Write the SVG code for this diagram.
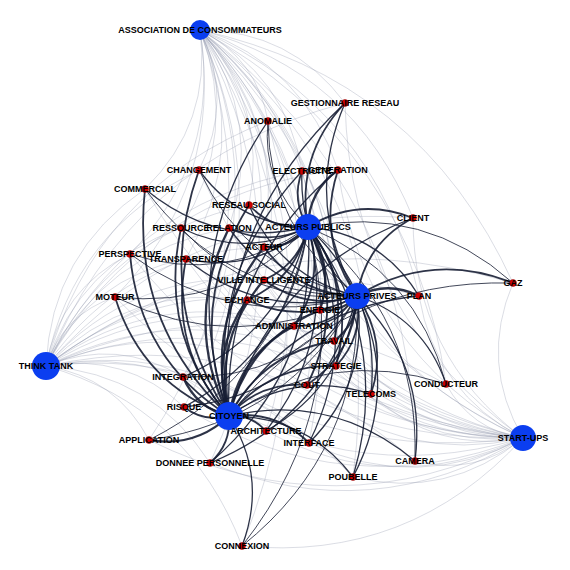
<svg xmlns="http://www.w3.org/2000/svg" xmlns:xlink="http://www.w3.org/1999/xlink" width="570" height="570" viewBox="0 0 570 570">
<style>
.lt{stroke:#8d93a8;stroke-width:0.7;stroke-opacity:0.45}
.dk use{stroke:#161d33;stroke-opacity:0.9;stroke-width:1.3}
.dk use.a{stroke-width:0.9}
.dk use.b{stroke-width:1.8}
.dk use.c{stroke-width:2.3}
.big{fill:#0b3ef0}
.sm{fill:#d00000;stroke:#8a0000;stroke-width:0.5}
text{font-family:"Liberation Sans",Arial,sans-serif;font-weight:bold;font-size:9px;fill:#000;text-anchor:middle}
</style>
<defs>
<path id="c" d="M0 0Q0.5 -0.25 1 0" fill="none" vector-effect="non-scaling-stroke"/>
</defs>
<rect width="570" height="570" fill="#fff"/>
<g id="connectors">
<g class="lt" transform="translate(200 30)">
<use href="#c" transform="matrix(68 91 -91 68 0 0)"/>
<use href="#c" transform="matrix(145 73 -73 145 0 0)"/>
<use href="#c" transform="matrix(-1 140 -140 -1 0 0)"/>
<use href="#c" transform="matrix(102 141 -141 102 0 0)"/>
<use href="#c" transform="matrix(138 140 -140 138 0 0)"/>
<use href="#c" transform="matrix(-55 159 -159 -55 0 0)"/>
<use href="#c" transform="matrix(49 175 -175 49 0 0)"/>
<use href="#c" transform="matrix(-19 198 -198 -19 0 0)"/>
<use href="#c" transform="matrix(29 198 -198 29 0 0)"/>
<use href="#c" transform="matrix(64 217 -217 64 0 0)"/>
<use href="#c" transform="matrix(-70 224 -224 -70 0 0)"/>
<use href="#c" transform="matrix(-14 229 -229 -14 0 0)"/>
<use href="#c" transform="matrix(64 250 -250 64 0 0)"/>
<use href="#c" transform="matrix(-85 267 -267 -85 0 0)"/>
<use href="#c" transform="matrix(47 270 -270 47 0 0)"/>
<use href="#c" transform="matrix(213 188 -188 213 0 0)"/>
<use href="#c" transform="matrix(219 266 -266 219 0 0)"/>
<use href="#c" transform="matrix(313 253 -253 313 0 0)"/>
<use href="#c" transform="matrix(120 280 -280 120 0 0)"/>
<use href="#c" transform="matrix(94 296 -296 94 0 0)"/>
<use href="#c" transform="matrix(134 311 -311 134 0 0)"/>
<use href="#c" transform="matrix(136 336 -336 136 0 0)"/>
<use href="#c" transform="matrix(107 355 -355 107 0 0)"/>
<use href="#c" transform="matrix(171 364 -364 171 0 0)"/>
<use href="#c" transform="matrix(246 354 -354 246 0 0)"/>
<use href="#c" transform="matrix(215 431 -431 215 0 0)"/>
<use href="#c" transform="matrix(153 447 -447 153 0 0)"/>
<use href="#c" transform="matrix(109 413 -413 109 0 0)"/>
<use href="#c" transform="matrix(66 401 -401 66 0 0)"/>
<use href="#c" transform="matrix(-17 347 -347 -17 0 0)"/>
<use href="#c" transform="matrix(-16 377 -377 -16 0 0)"/>
<use href="#c" transform="matrix(-51 410 -410 -51 0 0)"/>
<use href="#c" transform="matrix(10 433 -433 10 0 0)"/>
<use href="#c" transform="matrix(42 516 -516 42 0 0)"/>
</g>
<g class="lt" transform="translate(46 366)">
<use href="#c" transform="matrix(222 -245 245 222 0 0)"/>
<use href="#c" transform="matrix(299 -263 263 299 0 0)"/>
<use href="#c" transform="matrix(153 -196 196 153 0 0)"/>
<use href="#c" transform="matrix(256 -195 195 256 0 0)"/>
<use href="#c" transform="matrix(292 -196 196 292 0 0)"/>
<use href="#c" transform="matrix(99 -177 177 99 0 0)"/>
<use href="#c" transform="matrix(203 -161 161 203 0 0)"/>
<use href="#c" transform="matrix(135 -138 138 135 0 0)"/>
<use href="#c" transform="matrix(183 -138 138 183 0 0)"/>
<use href="#c" transform="matrix(218 -119 119 218 0 0)"/>
<use href="#c" transform="matrix(84 -112 112 84 0 0)"/>
<use href="#c" transform="matrix(140 -107 107 140 0 0)"/>
<use href="#c" transform="matrix(218 -86 86 218 0 0)"/>
<use href="#c" transform="matrix(69 -69 69 69 0 0)"/>
<use href="#c" transform="matrix(201 -66 66 201 0 0)"/>
<use href="#c" transform="matrix(367 -148 148 367 0 0)"/>
<use href="#c" transform="matrix(373 -70 70 373 0 0)"/>
<use href="#c" transform="matrix(467 -83 83 467 0 0)"/>
<use href="#c" transform="matrix(274 -56 56 274 0 0)"/>
<use href="#c" transform="matrix(248 -40 40 248 0 0)"/>
<use href="#c" transform="matrix(288 -25 25 288 0 0)"/>
<use href="#c" transform="matrix(290 0 0 290 0 0)"/>
<use href="#c" transform="matrix(261 19 -19 261 0 0)"/>
<use href="#c" transform="matrix(325 28 -28 325 0 0)"/>
<use href="#c" transform="matrix(400 18 -18 400 0 0)"/>
<use href="#c" transform="matrix(369 95 -95 369 0 0)"/>
<use href="#c" transform="matrix(307 111 -111 307 0 0)"/>
<use href="#c" transform="matrix(263 77 -77 263 0 0)"/>
<use href="#c" transform="matrix(220 65 -65 220 0 0)"/>
<use href="#c" transform="matrix(137 11 -11 137 0 0)"/>
<use href="#c" transform="matrix(138 41 -41 138 0 0)"/>
<use href="#c" transform="matrix(103 74 -74 103 0 0)"/>
<use href="#c" transform="matrix(164 97 -97 164 0 0)"/>
<use href="#c" transform="matrix(196 180 -180 196 0 0)"/>
</g>
<g class="lt" transform="translate(523 438)">
<use href="#c" transform="matrix(-255 -317 317 -255 0 0)"/>
<use href="#c" transform="matrix(-178 -335 335 -178 0 0)"/>
<use href="#c" transform="matrix(-324 -268 268 -324 0 0)"/>
<use href="#c" transform="matrix(-221 -267 267 -221 0 0)"/>
<use href="#c" transform="matrix(-185 -268 268 -185 0 0)"/>
<use href="#c" transform="matrix(-378 -249 249 -378 0 0)"/>
<use href="#c" transform="matrix(-274 -233 233 -274 0 0)"/>
<use href="#c" transform="matrix(-342 -210 210 -342 0 0)"/>
<use href="#c" transform="matrix(-294 -210 210 -294 0 0)"/>
<use href="#c" transform="matrix(-259 -191 191 -259 0 0)"/>
<use href="#c" transform="matrix(-393 -184 184 -393 0 0)"/>
<use href="#c" transform="matrix(-337 -179 179 -337 0 0)"/>
<use href="#c" transform="matrix(-259 -158 158 -259 0 0)"/>
<use href="#c" transform="matrix(-408 -141 141 -408 0 0)"/>
<use href="#c" transform="matrix(-276 -138 138 -276 0 0)"/>
<use href="#c" transform="matrix(-110 -220 220 -110 0 0)"/>
<use href="#c" transform="matrix(-104 -142 142 -104 0 0)"/>
<use href="#c" transform="matrix(-10 -155 155 -10 0 0)"/>
<use href="#c" transform="matrix(-203 -128 128 -203 0 0)"/>
<use href="#c" transform="matrix(-229 -112 112 -229 0 0)"/>
<use href="#c" transform="matrix(-189 -97 97 -189 0 0)"/>
<use href="#c" transform="matrix(-187 -72 72 -187 0 0)"/>
<use href="#c" transform="matrix(-216 -53 53 -216 0 0)"/>
<use href="#c" transform="matrix(-152 -44 44 -152 0 0)"/>
<use href="#c" transform="matrix(-77 -54 54 -77 0 0)"/>
<use href="#c" transform="matrix(-108 23 -23 -108 0 0)"/>
<use href="#c" transform="matrix(-170 39 -39 -170 0 0)"/>
<use href="#c" transform="matrix(-214 5 -5 -214 0 0)"/>
<use href="#c" transform="matrix(-257 -7 7 -257 0 0)"/>
<use href="#c" transform="matrix(-340 -61 61 -340 0 0)"/>
<use href="#c" transform="matrix(-339 -31 31 -339 0 0)"/>
<use href="#c" transform="matrix(-374 2 -2 -374 0 0)"/>
<use href="#c" transform="matrix(-313 25 -25 -313 0 0)"/>
<use href="#c" transform="matrix(-281 108 -108 -281 0 0)"/>
</g>
<g class="dk" transform="translate(308 227)">
<use class="a" href="#c" transform="matrix(-40 -106 106 -40 0 0)"/>
<use class="b" href="#c" transform="matrix(37 -124 124 37 0 0)"/>
<use href="#c" transform="matrix(-109 -57 57 -109 0 0)"/>
<use class="b" href="#c" transform="matrix(-6 -56 56 -6 0 0)"/>
<use class="c" href="#c" transform="matrix(30 -57 57 30 0 0)"/>
<use href="#c" transform="matrix(-163 -38 38 -163 0 0)"/>
<use class="b" href="#c" transform="matrix(-59 -22 22 -59 0 0)"/>
<use href="#c" transform="matrix(-127 1 -1 -127 0 0)"/>
<use class="b" href="#c" transform="matrix(-79 1 -1 -79 0 0)"/>
<use class="c" href="#c" transform="matrix(-44 20 -20 -44 0 0)"/>
<use class="a" href="#c" transform="matrix(-178 27 -27 -178 0 0)"/>
<use href="#c" transform="matrix(-122 32 -32 -122 0 0)"/>
<use class="b" href="#c" transform="matrix(-44 53 -53 -44 0 0)"/>
<use class="a" href="#c" transform="matrix(-193 70 -70 -193 0 0)"/>
<use class="b" href="#c" transform="matrix(-61 73 -73 -61 0 0)"/>
<use class="b" href="#c" transform="matrix(105 -9 9 105 0 0)"/>
<use href="#c" transform="matrix(111 69 -69 111 0 0)"/>
<use class="a" href="#c" transform="matrix(205 56 -56 205 0 0)"/>
<use class="c" href="#c" transform="matrix(12 83 -83 12 0 0)"/>
<use class="b" href="#c" transform="matrix(-14 99 -99 -14 0 0)"/>
<use class="b" href="#c" transform="matrix(26 114 -114 26 0 0)"/>
<use class="b" href="#c" transform="matrix(28 139 -139 28 0 0)"/>
<use class="b" href="#c" transform="matrix(-1 158 -158 -1 0 0)"/>
<use href="#c" transform="matrix(63 167 -167 63 0 0)"/>
<use class="a" href="#c" transform="matrix(138 157 -157 138 0 0)"/>
<use class="a" href="#c" transform="matrix(107 234 -234 107 0 0)"/>
<use href="#c" transform="matrix(45 250 -250 45 0 0)"/>
<use href="#c" transform="matrix(1 216 -216 1 0 0)"/>
<use href="#c" transform="matrix(-42 204 -204 -42 0 0)"/>
<use href="#c" transform="matrix(-125 150 -150 -125 0 0)"/>
<use href="#c" transform="matrix(-124 180 -180 -124 0 0)"/>
<use class="a" href="#c" transform="matrix(-159 213 -213 -159 0 0)"/>
<use href="#c" transform="matrix(-98 236 -236 -98 0 0)"/>
<use class="a" href="#c" transform="matrix(-66 319 -319 -66 0 0)"/>
</g>
<g class="dk" transform="translate(357 296)">
<use class="a" href="#c" transform="matrix(-89 -175 175 -89 0 0)"/>
<use href="#c" transform="matrix(-12 -193 193 -12 0 0)"/>
<use class="a" href="#c" transform="matrix(-158 -126 126 -158 0 0)"/>
<use href="#c" transform="matrix(-55 -125 125 -55 0 0)"/>
<use class="b" href="#c" transform="matrix(-19 -126 126 -19 0 0)"/>
<use class="a" href="#c" transform="matrix(-212 -107 107 -212 0 0)"/>
<use href="#c" transform="matrix(-108 -91 91 -108 0 0)"/>
<use class="a" href="#c" transform="matrix(-176 -68 68 -176 0 0)"/>
<use href="#c" transform="matrix(-128 -68 68 -128 0 0)"/>
<use class="b" href="#c" transform="matrix(-93 -49 49 -93 0 0)"/>
<use class="a" href="#c" transform="matrix(-227 -42 42 -227 0 0)"/>
<use href="#c" transform="matrix(-171 -37 37 -171 0 0)"/>
<use class="b" href="#c" transform="matrix(-93 -16 16 -93 0 0)"/>
<use class="a" href="#c" transform="matrix(-242 1 -1 -242 0 0)"/>
<use class="b" href="#c" transform="matrix(-110 4 -4 -110 0 0)"/>
<use class="b" href="#c" transform="matrix(56 -78 78 56 0 0)"/>
<use class="c" href="#c" transform="matrix(62 0 0 62 0 0)"/>
<use class="b" href="#c" transform="matrix(156 -13 13 156 0 0)"/>
<use class="c" href="#c" transform="matrix(-37 14 -14 -37 0 0)"/>
<use class="b" href="#c" transform="matrix(-63 30 -30 -63 0 0)"/>
<use class="c" href="#c" transform="matrix(-23 45 -45 -23 0 0)"/>
<use class="b" href="#c" transform="matrix(-21 70 -70 -21 0 0)"/>
<use class="b" href="#c" transform="matrix(-50 89 -89 -50 0 0)"/>
<use class="b" href="#c" transform="matrix(14 98 -98 14 0 0)"/>
<use href="#c" transform="matrix(89 88 -88 89 0 0)"/>
<use href="#c" transform="matrix(58 165 -165 58 0 0)"/>
<use href="#c" transform="matrix(-4 181 -181 -4 0 0)"/>
<use href="#c" transform="matrix(-48 147 -147 -48 0 0)"/>
<use href="#c" transform="matrix(-91 135 -135 -91 0 0)"/>
<use class="a" href="#c" transform="matrix(-174 81 -81 -174 0 0)"/>
<use href="#c" transform="matrix(-173 111 -111 -173 0 0)"/>
<use class="a" href="#c" transform="matrix(-208 144 -144 -208 0 0)"/>
<use href="#c" transform="matrix(-147 167 -167 -147 0 0)"/>
<use class="a" href="#c" transform="matrix(-115 250 -250 -115 0 0)"/>
</g>
<g class="dk" transform="translate(229 416)">
<use href="#c" transform="matrix(39 -295 295 39 0 0)"/>
<use href="#c" transform="matrix(116 -313 313 116 0 0)"/>
<use class="b" href="#c" transform="matrix(-30 -246 246 -30 0 0)"/>
<use href="#c" transform="matrix(73 -245 245 73 0 0)"/>
<use href="#c" transform="matrix(109 -246 246 109 0 0)"/>
<use class="b" href="#c" transform="matrix(-84 -227 227 -84 0 0)"/>
<use class="b" href="#c" transform="matrix(20 -211 211 20 0 0)"/>
<use class="b" href="#c" transform="matrix(-48 -188 188 -48 0 0)"/>
<use class="c" href="#c" transform="matrix(0 -188 188 0 0 0)"/>
<use class="c" href="#c" transform="matrix(35 -169 169 35 0 0)"/>
<use class="b" href="#c" transform="matrix(-99 -162 162 -99 0 0)"/>
<use class="b" href="#c" transform="matrix(-43 -157 157 -43 0 0)"/>
<use class="c" href="#c" transform="matrix(35 -136 136 35 0 0)"/>
<use class="b" href="#c" transform="matrix(-114 -119 119 -114 0 0)"/>
<use class="c" href="#c" transform="matrix(18 -116 116 18 0 0)"/>
<use href="#c" transform="matrix(184 -198 198 184 0 0)"/>
<use href="#c" transform="matrix(190 -120 120 190 0 0)"/>
<use class="a" href="#c" transform="matrix(284 -133 133 284 0 0)"/>
<use class="c" href="#c" transform="matrix(91 -106 106 91 0 0)"/>
<use class="c" href="#c" transform="matrix(65 -90 90 65 0 0)"/>
<use class="b" href="#c" transform="matrix(105 -75 75 105 0 0)"/>
<use class="b" href="#c" transform="matrix(107 -50 50 107 0 0)"/>
<use class="b" href="#c" transform="matrix(78 -31 31 78 0 0)"/>
<use href="#c" transform="matrix(142 -22 22 142 0 0)"/>
<use class="a" href="#c" transform="matrix(217 -32 32 217 0 0)"/>
<use href="#c" transform="matrix(186 45 -45 186 0 0)"/>
<use href="#c" transform="matrix(124 61 -61 124 0 0)"/>
<use class="b" href="#c" transform="matrix(80 27 -27 80 0 0)"/>
<use class="b" href="#c" transform="matrix(37 15 -15 37 0 0)"/>
<use class="c" href="#c" transform="matrix(-46 -39 39 -46 0 0)"/>
<use class="b" href="#c" transform="matrix(-45 -9 9 -45 0 0)"/>
<use class="c" href="#c" transform="matrix(-80 24 -24 -80 0 0)"/>
<use class="b" href="#c" transform="matrix(-19 47 -47 -19 0 0)"/>
<use href="#c" transform="matrix(13 130 -130 13 0 0)"/>
</g>
</g>
<g id="nodes">
<g id="n-association"><circle class="big" cx="200" cy="30" r="10"/><text x="200" y="33.2">ASSOCIATION DE CONSOMMATEURS</text></g>
<g id="n-acteurs-publics"><circle class="big" cx="308" cy="227" r="13"/><text x="308" y="230.2">ACTEURS PUBLICS</text></g>
<g id="n-acteurs-prives"><circle class="big" cx="357" cy="296" r="13"/><text x="357" y="299.2">ACTEURS PRIVES</text></g>
<g id="n-think-tank"><circle class="big" cx="46" cy="366" r="14"/><text x="46" y="369.2">THINK TANK</text></g>
<g id="n-citoyen"><circle class="big" cx="229" cy="416" r="14"/><text x="229" y="419.2">CITOYEN</text></g>
<g id="n-start-ups"><circle class="big" cx="523" cy="438" r="13"/><text x="523" y="441.2">START-UPS</text></g>
<g id="n-anomalie"><circle class="sm" cx="268" cy="121" r="3.5"/><text x="268" y="124.2">ANOMALIE</text></g>
<g id="n-gestionnaire"><circle class="sm" cx="345" cy="103" r="3.5"/><text x="345" y="106.2">GESTIONNAIRE RESEAU</text></g>
<g id="n-changement"><circle class="sm" cx="199" cy="170" r="3.5"/><text x="199" y="173.2">CHANGEMENT</text></g>
<g id="n-electricite"><circle class="sm" cx="302" cy="171" r="3.5"/><text x="302" y="174.2">ELECTRICITE</text></g>
<g id="n-generation"><circle class="sm" cx="338" cy="170" r="3.5"/><text x="338" y="173.2">GENERATION</text></g>
<g id="n-commercial"><circle class="sm" cx="145" cy="189" r="3.5"/><text x="145" y="192.2">COMMERCIAL</text></g>
<g id="n-reseau-social"><circle class="sm" cx="249" cy="205" r="3.5"/><text x="249" y="208.2">RESEAU SOCIAL</text></g>
<g id="n-ressource"><circle class="sm" cx="181" cy="228" r="3.5"/><text x="181" y="231.2">RESSOURCE</text></g>
<g id="n-relation"><circle class="sm" cx="229" cy="228" r="3.5"/><text x="229" y="231.2">RELATION</text></g>
<g id="n-acteur"><circle class="sm" cx="264" cy="247" r="3.5"/><text x="264" y="250.2">ACTEUR</text></g>
<g id="n-perspective"><circle class="sm" cx="130" cy="254" r="3.5"/><text x="130" y="257.2">PERSPECTIVE</text></g>
<g id="n-transparence"><circle class="sm" cx="186" cy="259" r="3.5"/><text x="186" y="262.2">TRANSPARENCE</text></g>
<g id="n-ville"><circle class="sm" cx="264" cy="280" r="3.5"/><text x="264" y="283.2">VILLE INTELLIGENTE</text></g>
<g id="n-moteur"><circle class="sm" cx="115" cy="297" r="3.5"/><text x="115" y="300.2">MOTEUR</text></g>
<g id="n-echange"><circle class="sm" cx="247" cy="300" r="3.5"/><text x="247" y="303.2">ECHANGE</text></g>
<g id="n-client"><circle class="sm" cx="413" cy="218" r="3.5"/><text x="413" y="221.2">CLIENT</text></g>
<g id="n-plan"><circle class="sm" cx="419" cy="296" r="3.5"/><text x="419" y="299.2">PLAN</text></g>
<g id="n-gaz"><circle class="sm" cx="513" cy="283" r="3.5"/><text x="513" y="286.2">GAZ</text></g>
<g id="n-energie"><circle class="sm" cx="320" cy="310" r="3.5"/><text x="320" y="313.2">ENERGIE</text></g>
<g id="n-administration"><circle class="sm" cx="294" cy="326" r="3.5"/><text x="294" y="329.2">ADMINISTRATION</text></g>
<g id="n-travail"><circle class="sm" cx="334" cy="341" r="3.5"/><text x="334" y="344.2">TRAVAIL</text></g>
<g id="n-strategie"><circle class="sm" cx="336" cy="366" r="3.5"/><text x="336" y="369.2">STRATEGIE</text></g>
<g id="n-cout"><circle class="sm" cx="307" cy="385" r="3.5"/><text x="307" y="388.2">COUT</text></g>
<g id="n-telecoms"><circle class="sm" cx="371" cy="394" r="3.5"/><text x="371" y="397.2">TELECOMS</text></g>
<g id="n-conducteur"><circle class="sm" cx="446" cy="384" r="3.5"/><text x="446" y="387.2">CONDUCTEUR</text></g>
<g id="n-camera"><circle class="sm" cx="415" cy="461" r="3.5"/><text x="415" y="464.2">CAMERA</text></g>
<g id="n-poubelle"><circle class="sm" cx="353" cy="477" r="3.5"/><text x="353" y="480.2">POUBELLE</text></g>
<g id="n-interface"><circle class="sm" cx="309" cy="443" r="3.5"/><text x="309" y="446.2">INTERFACE</text></g>
<g id="n-architecture"><circle class="sm" cx="266" cy="431" r="3.5"/><text x="266" y="434.2">ARCHITECTURE</text></g>
<g id="n-integration"><circle class="sm" cx="183" cy="377" r="3.5"/><text x="183" y="380.2">INTEGRATION</text></g>
<g id="n-risque"><circle class="sm" cx="184" cy="407" r="3.5"/><text x="184" y="410.2">RISQUE</text></g>
<g id="n-application"><circle class="sm" cx="149" cy="440" r="3.5"/><text x="149" y="443.2">APPLICATION</text></g>
<g id="n-donnee"><circle class="sm" cx="210" cy="463" r="3.5"/><text x="210" y="466.2">DONNEE PERSONNELLE</text></g>
<g id="n-connexion"><circle class="sm" cx="242" cy="546" r="3.5"/><text x="242" y="549.2">CONNEXION</text></g>
</g>
</svg>
